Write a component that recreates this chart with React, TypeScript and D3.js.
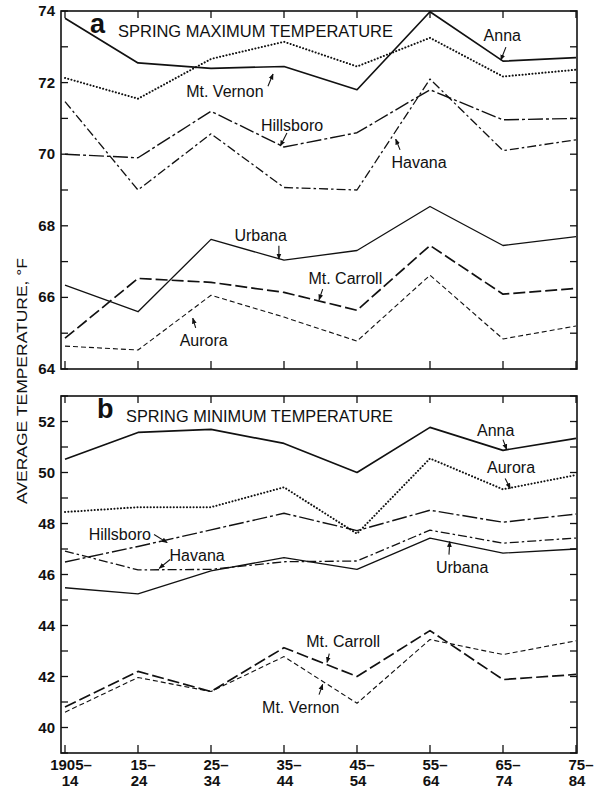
import React from "react";
import * as d3 from "d3";

// ---------- data ----------
const periods = ["1905–14", "15–24", "25–34", "35–44", "45–54", "55–64", "65–74", "75–84"];
const xTop = ["1905–", "15–", "25–", "35–", "45–", "55–", "65–", "75–"];
const xBottom = ["14", "24", "34", "44", "54", "64", "74", "84"];

// Panel a: spring maximum temperature (°F)
const maxAnna = [73.8, 72.55, 72.4, 72.45, 71.8, 73.98, 72.6, 72.7];
const maxMtVernon = [72.13, 71.55, 72.66, 73.14, 72.45, 73.25, 72.17, 72.36];
const maxHillsboro = [70.0, 69.9, 71.2, 70.2, 70.6, 71.8, 70.96, 71.0];
const maxHavana = [71.47, 69.0, 70.57, 69.07, 69.0, 72.1, 70.1, 70.4];
const maxUrbana = [66.34, 65.6, 67.62, 67.04, 67.31, 68.54, 67.45, 67.7];
const maxMtCarroll = [64.86, 66.53, 66.42, 66.14, 65.64, 67.45, 66.09, 66.25];
const maxAurora = [64.64, 64.53, 66.06, 65.45, 64.78, 66.62, 64.84, 65.2];

// Panel b: spring minimum temperature (°F)
const minAnna = [50.52, 51.57, 51.69, 51.14, 50.0, 51.77, 50.87, 51.34];
const minAurora = [48.45, 48.64, 48.64, 49.42, 47.6, 50.55, 49.34, 49.9];
const minHillsboro = [46.49, 47.1, 47.75, 48.4, 47.72, 48.52, 48.05, 48.37];
const minHavana = [46.92, 46.18, 46.2, 46.5, 46.53, 47.74, 47.23, 47.43];
const minUrbana = [45.48, 45.24, 46.14, 46.66, 46.2, 47.43, 46.84, 47.0];
const minMtCarroll = [40.8, 42.2, 41.41, 43.13, 42.0, 43.8, 41.88, 42.08];
const minMtVernon = [40.6, 41.96, 41.41, 42.78, 40.95, 43.45, 42.86, 43.4];

const ticksA = [64, 66, 68, 70, 72, 74];
const ticksB = [40, 42, 44, 46, 48, 50, 52];

// ---------- styles ----------
const INK = "#111";
type Style = { dash?: string; w: number; cap?: string };
const SOLID: Style = { w: 1.7 };
const SOLID_THIN: Style = { w: 1.3 };
const DOTTED: Style = { dash: "0.1,3.2", w: 2.0, cap: "round" };
const LONG_DASH_DOT: Style = { dash: "15,3,3,3", w: 1.4 };
const DASH_DOT: Style = { dash: "9,3,2.5,3", w: 1.3 };
const LONG_DASH: Style = { dash: "12,4", w: 1.7 };
const SHORT_DASH: Style = { dash: "5,3", w: 1.1 };

const seriesA = [
  { name: "Anna", values: maxAnna, style: SOLID },
  { name: "Mt. Vernon", values: maxMtVernon, style: DOTTED },
  { name: "Hillsboro", values: maxHillsboro, style: LONG_DASH_DOT },
  { name: "Havana", values: maxHavana, style: DASH_DOT },
  { name: "Urbana", values: maxUrbana, style: SOLID_THIN },
  { name: "Mt. Carroll", values: maxMtCarroll, style: LONG_DASH },
  { name: "Aurora", values: maxAurora, style: SHORT_DASH },
];
const seriesB = [
  { name: "Anna", values: minAnna, style: SOLID },
  { name: "Aurora", values: minAurora, style: DOTTED },
  { name: "Hillsboro", values: minHillsboro, style: LONG_DASH_DOT },
  { name: "Havana", values: minHavana, style: DASH_DOT },
  { name: "Urbana", values: minUrbana, style: SOLID_THIN },
  { name: "Mt. Carroll", values: minMtCarroll, style: LONG_DASH },
  { name: "Mt. Vernon", values: minMtVernon, style: SHORT_DASH },
];

// annotations in data units: label centre [xi, v], arrow from -> to
const annA = [
  { t: "Anna", at: [5.99, 73.33], from: [6.04, 72.99], to: [5.97, 72.63] },
  { t: "Mt. Vernon", at: [2.19, 71.77], from: [2.78, 71.9], to: [2.85, 72.24] },
  { t: "Hillsboro", at: [3.11, 70.82], from: [3.04, 70.59], to: [2.95, 70.23] },
  { t: "Havana", at: [4.85, 69.78], from: [4.59, 70.12], to: [4.53, 70.42] },
  { t: "Urbana", at: [2.68, 67.74], from: [2.93, 67.44], to: [2.93, 67.07] },
  { t: "Mt. Carroll", at: [3.84, 66.54], from: [3.53, 66.23], to: [3.48, 65.93] },
  { t: "Aurora", at: [1.9, 64.81], from: [1.79, 65.15], to: [1.75, 65.42] },
];
const annB = [
  { t: "Anna", at: [5.9, 51.65], from: [6.0, 51.29], to: [6.05, 50.9] },
  { t: "Aurora", at: [6.11, 50.2], from: [6.03, 49.76], to: [6.1, 49.37] },
  { t: "Hillsboro", at: [0.75, 47.57], from: [1.22, 47.57], to: [1.4, 47.25] },
  { t: "Havana", at: [1.81, 46.75], from: [1.44, 46.59], to: [1.29, 46.24] },
  { t: "Urbana", at: [5.44, 46.31], from: [5.26, 46.78], to: [5.27, 47.29] },
  { t: "Mt. Carroll", at: [3.81, 43.41], from: [3.62, 42.9], to: [3.59, 42.55] },
  { t: "Mt. Vernon", at: [3.23, 40.82], from: [3.48, 41.29], to: [3.53, 41.69] },
];

const FONT = "'Liberation Sans', Arial, Helvetica, sans-serif";

const W = 597;
const H = 793;
const LEFT = 61;
const RIGHT = 577;

const x = d3.scaleLinear().domain([0, 7]).range([65, 576]);

function Panel({
  y,
  domain,
  ticks,
  series,
  ann,
  letter,
  title,
  titleWidth,
  letterX,
  titleX,
}: any) {
  const [top, bottom] = [y(domain[1]), y(domain[0])];
  const line = (vals: number[]) =>
    d3
      .line<number>()
      .x((_, i) => x(i))
      .y((v) => y(v))(vals) as string;
  const minor = d3.range(Math.ceil(domain[0]), Math.floor(domain[1]) + 1);
  return (
    <g>
      {/* frame */}
      <rect x={LEFT} y={top} width={RIGHT - LEFT} height={bottom - top} fill="none" stroke={INK} strokeWidth={1.6} />
      {/* y ticks (left and right, inward) */}
      {minor.map((v) => (
        <g key={v}>
          <line x1={LEFT} x2={LEFT + 7} y1={y(v)} y2={y(v)} stroke={INK} strokeWidth={1.3} />
          <line x1={RIGHT} x2={RIGHT - 7} y1={y(v)} y2={y(v)} stroke={INK} strokeWidth={1.3} />
        </g>
      ))}
      {ticks.map((v: number) => (
        <text key={v} x={55} y={y(v) + 5} textAnchor="end" fontSize={15} fontWeight="bold" fill={INK} fontFamily={FONT}>
          {v}
        </text>
      ))}
      {/* x ticks top and bottom */}
      {periods.map((p, i) => (
        <g key={p}>
          <line x1={x(i)} x2={x(i)} y1={top} y2={top + 7} stroke={INK} strokeWidth={1.3} />
          <line x1={x(i)} x2={x(i)} y1={bottom} y2={bottom - 8} stroke={INK} strokeWidth={1.3} />
        </g>
      ))}
      {/* title */}
      <text x={letterX} y={top + 22} fontSize={27} fontWeight="bold" fill={INK} fontFamily={FONT}>
        {letter}
      </text>
      <text x={titleX} y={top + 26} fontSize={17} fill={INK} fontFamily={FONT} textLength={titleWidth} lengthAdjust="spacingAndGlyphs">
        {title}
      </text>
      {/* series */}
      {series.map((s: any) => (
        <path
          key={s.name}
          d={line(s.values)}
          fill="none"
          stroke={INK}
          strokeWidth={s.style.w}
          strokeDasharray={s.style.dash}
          strokeLinecap={s.style.cap || "butt"}
          strokeLinejoin="round"
        />
      ))}
      {/* annotations */}
      {ann.map((a: any) => (
        <g key={a.t}>
          <text x={x(a.at[0])} y={y(a.at[1]) + 6} textAnchor="middle" fontSize={16} fill={INK} fontFamily={FONT}>
            {a.t}
          </text>
          <line
            x1={x(a.from[0])}
            y1={y(a.from[1])}
            x2={x(a.to[0])}
            y2={y(a.to[1])}
            stroke={INK}
            strokeWidth={1.1}
            markerEnd="url(#arrow)"
          />
        </g>
      ))}
    </g>
  );
}

export default function App() {
  const yA = d3.scaleLinear().domain([64, 74]).range([369, 11]);
  const yB = d3.scaleLinear().domain([39, 53]).range([753, 396]);
  return (
    <svg
      width={W}
      height={H}
      viewBox={`0 0 ${W} ${H}`}
      style={{ position: "absolute", left: 0, top: 0, background: "#fff" }}
    >
      <defs>
        <marker id="arrow" viewBox="0 0 10 10" refX="9" refY="5" markerWidth="6" markerHeight="6" orient="auto" markerUnits="userSpaceOnUse">
          <path d="M0,1 L10,5 L0,9 z" fill={INK} />
        </marker>
      </defs>
      <rect width={W} height={H} fill="#fff" />
      <Panel
        y={yA}
        domain={[64, 74]}
        ticks={ticksA}
        series={seriesA}
        ann={annA}
        letter="a"
        title="SPRING MAXIMUM TEMPERATURE"
        titleWidth={275}
        letterX={90}
        titleX={118}
      />
      <Panel
        y={yB}
        domain={[39, 53]}
        ticks={ticksB}
        series={seriesB}
        ann={annB}
        letter="b"
        title="SPRING MINIMUM TEMPERATURE"
        titleWidth={267}
        letterX={97}
        titleX={126}
      />
      {/* y-axis title */}
      <text
        transform="translate(27,381) rotate(-90)"
        textAnchor="middle"
        fontSize={14}
        fill={INK}
        fontFamily={FONT}
        textLength={246}
        lengthAdjust="spacingAndGlyphs"
      >
        AVERAGE TEMPERATURE, °F
      </text>
      {/* x labels */}
      {periods.map((p, i) => (
        <g key={p}>
          <text x={x(i) + (i === 0 ? 6 : 5)} y={770} textAnchor="middle" fontSize={15} fontWeight="bold" fill={INK} fontFamily={FONT}>
            {xTop[i]}
          </text>
          <text x={x(i) + (i === 0 ? 5 : 1)} y={786} textAnchor="middle" fontSize={15} fontWeight="bold" fill={INK} fontFamily={FONT}>
            {xBottom[i]}
          </text>
        </g>
      ))}
    </svg>
  );
}
